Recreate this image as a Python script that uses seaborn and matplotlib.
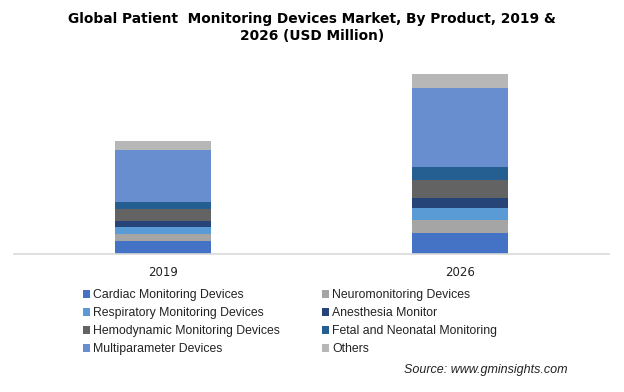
import numpy as np
import pandas as pd
import matplotlib
matplotlib.use("Agg")
import matplotlib.pyplot as plt
import seaborn as sns
from matplotlib.patches import Patch

years = ["2019", "2026"]
segments = ["Cardiac Monitoring Devices", "Neuromonitoring Devices",
            "Respiratory Monitoring Devices", "Anesthesia Monitor",
            "Hemodynamic Monitoring Devices", "Fetal and Neonatal Monitoring",
            "Multiparameter Devices", "Others"]
# estimated values (USD Million)
v2019 = [1300, 730, 670, 600, 1200, 700, 5200, 900]
v2026 = [2100, 1270, 1200, 1000, 1800, 1300, 7900, 1400]
colors = ["#4472C4", "#A5A5A5", "#5B9BD5", "#264478",
          "#636363", "#255E91", "#698ED0", "#B7B7B7"]

sns.set_style("white")
plt.rcParams['font.family'] = ['DejaVu Sans']

df = pd.DataFrame({"2019": v2019, "2026": v2026}, index=segments)
cum = df.cumsum()

fig = plt.figure(figsize=(6.24, 3.92), dpi=100)
ax = fig.add_axes([14 / 624, 138 / 392, 595 / 624, 194 / 392])

# stacked bars: draw cumulative totals from the top segment down
for i in range(len(segments) - 1, -1, -1):
    d = pd.DataFrame({"year": years, "val": cum.iloc[i].values})
    sns.barplot(data=d, x="year", y="val", color=colors[i], width=0.323,
                saturation=1, ax=ax, edgecolor="none")

ax.set_xlim(-0.5, 1.5)
ax.set_ylim(0, 19400)
ax.set_yticks([])
ax.set_xlabel("")
ax.set_ylabel("")
for s in ["top", "right", "left"]:
    ax.spines[s].set_visible(False)
ax.spines["bottom"].set_color("#D9D9D9")
ax.spines["bottom"].set_linewidth(1.2)
ax.tick_params(axis="x", length=0, pad=9, labelsize=8.5, colors="#222222")

fig.text(0.5, 0.97, "Global Patient  Monitoring Devices Market, By Product, 2019 &\n2026 (USD Million)",
         ha="center", va="top", fontsize=9.9, fontweight="bold", linespacing=1.3,
         color="black")

handles = [Patch(facecolor=c, edgecolor="none") for c in colors]
order = [0, 2, 4, 6, 1, 3, 5, 7]
leg = fig.legend([handles[k] for k in order], [segments[k] for k in order],
                 ncol=2, loc="upper left", bbox_to_anchor=(72 / 624, 1 - 278 / 392),
                 frameon=False, handlelength=0.6, handleheight=0.6,
                 handletextpad=0.25, labelspacing=0.5, columnspacing=3.4,
                 prop={"family": "Liberation Sans", "size": 8.8})
for t in leg.get_texts():
    t.set_color("#222222")

fig.text(568 / 624, 1 - 370 / 392, "Source: www.gminsights.com", ha="right", va="center",
         fontsize=9, style="italic", family="Liberation Sans", color="#222222")

fig.savefig("out.png", dpi=100)
